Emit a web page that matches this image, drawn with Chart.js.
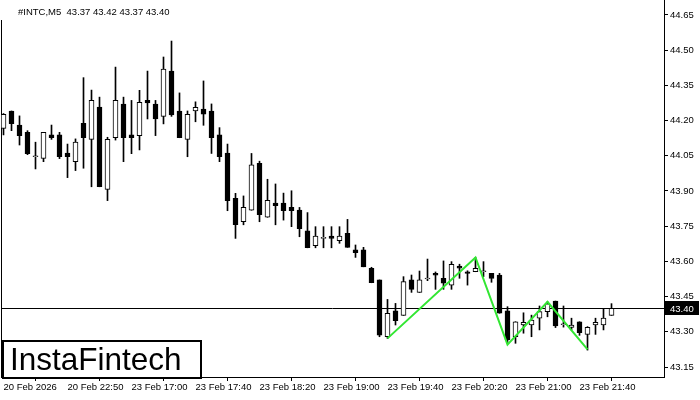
<!DOCTYPE html>
<html>
<head>
<meta charset="utf-8">
<script src="https://cdn.jsdelivr.net/npm/chart.js@4"></script>
<style>
  body { margin: 0; background: #fff; }
  canvas { display: block; }
</style>
</head>
<body>
<canvas id="candleChart" width="700" height="400"></canvas>
<script>
// INTC M5 candles
const opens = [44.167, 44.241, 44.181, 44.150, 44.046, 44.039, 44.139, 44.139, 44.062, 44.025,
  44.188, 44.120, 44.258, 43.907, 44.127, 44.270, 44.139, 44.136, 44.286, 44.270,
  44.218, 44.411, 44.241, 44.120, 44.241, 44.249, 44.241, 44.139, 44.062, 43.869,
  43.769, 43.818, 44.018, 43.788, 43.849, 43.849, 43.830, 43.819, 43.730, 43.667,
  43.698, 43.708, 43.688, 43.720, 43.649, 43.649, 43.571, 43.521, 43.279, 43.389,
  43.370, 43.521, 43.468, 43.525, 43.549, 43.528, 43.499, 43.580, 43.556, 43.556,
  43.556, 43.549, 43.542, 43.389, 43.279, 43.329, 43.329, 43.358, 43.386, 43.431,
  43.330, 43.319, 43.343, 43.289, 43.329, 43.329, 43.370];
const highs = [44.230, 44.241, 44.220, 44.157, 44.108, 44.150, 44.181, 44.150, 44.100, 44.122,
  44.383, 44.330, 44.300, 44.129, 44.428, 44.300, 44.286, 44.329, 44.411, 44.286,
  44.471, 44.539, 44.318, 44.241, 44.280, 44.369, 44.271, 44.170, 44.100, 43.890,
  43.879, 44.060, 44.027, 43.950, 43.930, 43.891, 43.901, 43.830, 43.808, 43.748,
  43.748, 43.748, 43.748, 43.779, 43.670, 43.660, 43.575, 43.521, 43.438, 43.421,
  43.535, 43.542, 43.559, 43.610, 43.555, 43.602, 43.599, 43.588, 43.560, 43.617,
  43.599, 43.549, 43.549, 43.407, 43.343, 43.381, 43.371, 43.410, 43.428, 43.431,
  43.410, 43.358, 43.343, 43.322, 43.358, 43.400, 43.420];
const lows = [44.139, 44.157, 44.096, 44.055, 43.994, 44.025, 44.120, 44.038, 43.957, 43.987,
  43.997, 43.918, 43.918, 43.859, 44.117, 44.025, 44.059, 44.075, 44.207, 44.136,
  44.186, 44.218, 44.127, 44.046, 44.195, 44.180, 44.060, 44.025, 43.816, 43.698,
  43.756, 43.818, 43.769, 43.788, 43.756, 43.776, 43.748, 43.705, 43.658, 43.658,
  43.658, 43.658, 43.677, 43.660, 43.617, 43.577, 43.509, 43.279, 43.272, 43.329,
  43.370, 43.468, 43.468, 43.518, 43.481, 43.481, 43.481, 43.528, 43.499, 43.556,
  43.535, 43.511, 43.379, 43.251, 43.251, 43.294, 43.279, 43.308, 43.364, 43.318,
  43.320, 43.308, 43.285, 43.222, 43.289, 43.308, 43.370];
const closes = [44.227, 44.187, 44.136, 44.059, 44.046, 44.150, 44.127, 44.046, 44.046, 44.108,
  44.127, 44.286, 43.918, 44.120, 44.286, 44.127, 44.127, 44.278, 44.275, 44.207,
  44.420, 44.224, 44.127, 44.227, 44.257, 44.227, 44.127, 44.046, 43.859, 43.756,
  43.830, 44.011, 43.799, 43.860, 43.837, 43.816, 43.816, 43.739, 43.658, 43.708,
  43.698, 43.698, 43.708, 43.660, 43.637, 43.577, 43.509, 43.286, 43.379, 43.347,
  43.514, 43.481, 43.521, 43.525, 43.541, 43.507, 43.588, 43.571, 43.549, 43.571,
  43.556, 43.528, 43.379, 43.265, 43.343, 43.340, 43.350, 43.386, 43.419, 43.325,
  43.330, 43.329, 43.296, 43.319, 43.340, 43.358, 43.400];

// pattern line (bar index, price)
const patternIdx = [48, 59, 63, 68, 73];
const patternVals = [43.272, 43.617, 43.245, 43.428, 43.225];

const priceTicks = [43.15, 43.30, 43.45, 43.60, 43.75, 43.90, 44.05, 44.20, 44.35, 44.50, 44.65];
const timeTickIdx = [0, 8, 16, 24, 32, 40, 48, 56, 64, 72];
const timeLabels = ["20 Feb 2026", "20 Feb 22:50", "23 Feb 17:00", "23 Feb 17:40", "23 Feb 18:20",
  "23 Feb 19:00", "23 Feb 19:40", "23 Feb 20:20", "23 Feb 21:00", "23 Feb 21:40"];

const lastPrice = 43.40;
const headerText = "#INTC,M5  43.37 43.42 43.37 43.40";

const FONT = "'Liberation Sans', Arial, sans-serif";

const wicks = opens.map((o, i) => ({ x: i, y: [lows[i], highs[i]] }));
const bodies = opens.map((o, i) => ({ x: i, y: [Math.min(o, closes[i]), Math.max(o, closes[i])] }));
const bodyColors = opens.map((o, i) => (closes[i] >= o ? "#ffffff" : "#000000"));
const pattern = patternIdx.map((x, i) => ({ x: x, y: patternVals[i] }));

// frame, price line, header and logo
const extras = {
  id: "extras",
  beforeDatasetsDraw(chart) {
    const { ctx, chartArea: a, scales } = chart;
    const py = Math.round(scales.y.getPixelForValue(lastPrice)) + 0.5;
    ctx.save();
    ctx.strokeStyle = "#000";
    ctx.lineWidth = 1;
    ctx.beginPath();
    ctx.moveTo(a.left, py);
    ctx.lineTo(a.right, py);
    ctx.moveTo(a.left + 0.5, 20);
    ctx.lineTo(a.left + 0.5, a.bottom);
    ctx.stroke();
    ctx.restore();
  },
  afterDraw(chart) {
    const { ctx, chartArea: a, scales } = chart;
    const py = Math.round(scales.y.getPixelForValue(lastPrice));
    ctx.save();
    // last price tag
    ctx.fillStyle = "#000";
    ctx.fillRect(a.right + 1, py - 7, 34, 14);
    ctx.fillStyle = "#fff";
    ctx.font = "9.5px " + FONT;
    ctx.textBaseline = "middle";
    ctx.textAlign = "left";
    ctx.fillText(lastPrice.toFixed(2), a.right + 6, py + 1);
    // header
    ctx.fillStyle = "#000";
    ctx.fillText(headerText, 18, 12);
    // logo
    ctx.fillStyle = "#fff";
    ctx.fillRect(3, 341, 198, 37);
    ctx.strokeStyle = "#000";
    ctx.lineWidth = 2;
    ctx.strokeRect(3, 341, 198, 37);
    ctx.fillStyle = "#000";
    ctx.font = "31.5px " + FONT;
    ctx.textBaseline = "alphabetic";
    ctx.fillText("InstaFintech", 10, 370);
    ctx.restore();
  }
};

new Chart(document.getElementById("candleChart"), {
  type: "bar",
  data: {
    datasets: [
      {
        type: "line",
        data: pattern,
        borderColor: "rgb(50, 230, 50)",
        borderWidth: 2,
        pointRadius: 0,
        tension: 0,
        order: 1
      },
      {
        data: bodies,
        backgroundColor: bodyColors,
        borderColor: "#000",
        borderWidth: 1,
        borderSkipped: false,
        barThickness: 5,
        minBarLength: 1,
        grouped: false,
        order: 2
      },
      {
        data: wicks,
        backgroundColor: "#000",
        borderWidth: 0,
        barThickness: 1,
        grouped: false,
        order: 3
      }
    ]
  },
  options: {
    responsive: false,
    animation: false,
    layout: { padding: { left: 1, top: 0, right: 0, bottom: 0 } },
    plugins: {
      legend: { display: false },
      tooltip: { enabled: false }
    },
    scales: {
      x: {
        type: "linear",
        min: -0.3125,
        max: 82.5625,
        offset: false,
        afterFit: (s) => { s.height = 23; s.paddingLeft = 0; s.paddingRight = 0; },
        afterBuildTicks: (s) => { s.ticks = timeTickIdx.map((v) => ({ value: v })); },
        grid: { drawOnChartArea: false, drawTicks: true, tickLength: 4, color: "#000" },
        border: { display: true, color: "#000", width: 1 },
        ticks: {
          autoSkip: false,
          maxRotation: 0,
          align: "start",
          padding: 1,
          color: "#000",
          font: { family: FONT, size: 9.5 },
          callback: (v) => timeLabels[timeTickIdx.indexOf(v)]
        }
      },
      y: {
        position: "right",
        min: 43.1074,
        max: 44.7139,
        afterFit: (s) => { s.width = 36; s.paddingTop = 0; s.paddingBottom = 0; },
        afterBuildTicks: (s) => { s.ticks = priceTicks.map((v) => ({ value: v })); },
        grid: { drawOnChartArea: false, drawTicks: true, tickLength: 4, color: "#000" },
        border: { display: true, color: "#000", width: 1 },
        ticks: {
          autoSkip: false,
          padding: 2,
          color: "#000",
          font: { family: FONT, size: 9.5 },
          callback: (v) => Number(v).toFixed(2)
        }
      }
    }
  },
  plugins: [extras]
});
</script>
</body>
</html>
